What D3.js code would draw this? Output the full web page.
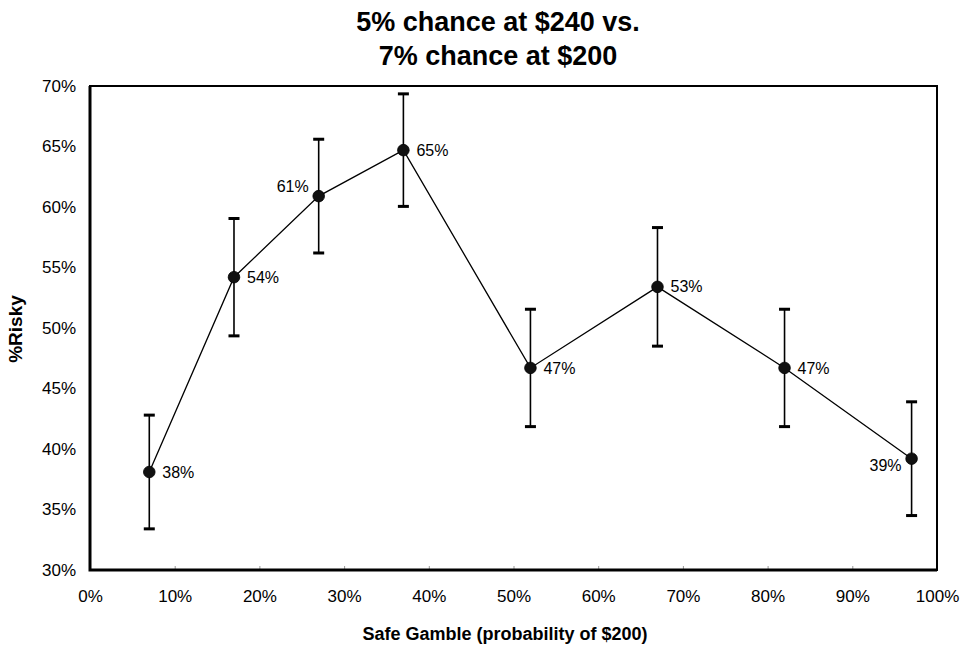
<!DOCTYPE html>
<html>
<head>
<meta charset="utf-8">
<script src="https://cdn.jsdelivr.net/npm/d3@7"></script>
<style>
  html, body { margin: 0; padding: 0; background: #fff; }
  svg { display: block; font-family: "Liberation Sans", Arial, sans-serif; }
</style>
</head>
<body>
<svg id="chart" width="965" height="645"></svg>
<script>
// Safe-gamble probability (x) and share choosing the risky option (y)
const safeProb   = [0.07, 0.17, 0.27, 0.37, 0.52, 0.67, 0.82, 0.97];
const pctRisky   = [0.381, 0.542, 0.609, 0.647, 0.467, 0.534, 0.467, 0.392];
const errorSize  = [0.047, 0.0485, 0.047, 0.0465, 0.0485, 0.049, 0.0485, 0.047];
const xTicks     = [0, 0.1, 0.2, 0.3, 0.4, 0.5, 0.6, 0.7, 0.8, 0.9, 1.0];
const yTicks     = [0.30, 0.35, 0.40, 0.45, 0.50, 0.55, 0.60, 0.65, 0.70];
const titleLines = ["5% chance at $240 vs.", "7% chance at $200"];
const xTitle     = "Safe Gamble (probability of $200)";
const yTitle     = "%Risky";

const svg = d3.select("#chart");
const plot = { left: 90, right: 937, top: 86, bottom: 570 };

const x = d3.scaleLinear().domain([0, 1]).range([plot.left, plot.right]);
const y = d3.scaleLinear().domain([0.30, 0.70]).range([plot.bottom, plot.top]);
const pct = d3.format(".0%");

const points = safeProb.map((p, i) => ({ p, v: pctRisky[i], e: errorSize[i], i }));

// Title
svg.append("text")
  .attr("x", 498).attr("y", 31)
  .attr("text-anchor", "middle")
  .attr("font-size", 27).attr("font-weight", "bold")
  .selectAll("tspan").data(titleLines).join("tspan")
  .attr("x", 498).attr("dy", (d, i) => i === 0 ? 0 : 34)
  .text(d => d);

// Y axis labels
const yAxis = svg.append("g")
  .attr("transform", `translate(${plot.left},0)`)
  .call(d3.axisLeft(y).tickValues(yTicks).tickFormat(pct).tickSize(0).tickPadding(14));
yAxis.select(".domain").remove();
yAxis.selectAll("text").attr("font-size", 17).attr("font-family", "Liberation Sans, Arial, sans-serif").attr("fill", "#000");

// X axis: faint inward ticks plus labels
const xAxis = svg.append("g")
  .attr("transform", `translate(0,${plot.bottom})`)
  .call(d3.axisBottom(x).tickValues(xTicks).tickFormat(pct).tickSize(-4).tickPadding(20));
xAxis.select(".domain").remove();
xAxis.selectAll("line").attr("stroke", "#999").attr("stroke-width", 1);
xAxis.selectAll("text").attr("font-size", 17).attr("font-family", "Liberation Sans, Arial, sans-serif").attr("fill", "#000");

// Plot frame
svg.append("rect")
  .attr("x", plot.left).attr("y", plot.top)
  .attr("width", plot.right - plot.left).attr("height", plot.bottom - plot.top)
  .attr("fill", "none").attr("stroke", "#000").attr("stroke-width", 2);
svg.append("path")
  .attr("d", `M${plot.left},${plot.top} V${plot.bottom} H${plot.right}`)
  .attr("fill", "none").attr("stroke", "#000").attr("stroke-width", 3);

// Error bars
const eb = svg.append("g").attr("class", "errorbars");
eb.selectAll("line").data(points).join("line")
  .attr("x1", d => x(d.p)).attr("x2", d => x(d.p))
  .attr("y1", d => y(d.v + d.e)).attr("y2", d => y(d.v - d.e))
  .attr("stroke", "#000").attr("stroke-width", 1.6);
const caps = points.flatMap(d => [{ p: d.p, v: d.v + d.e }, { p: d.p, v: d.v - d.e }]);
eb.selectAll("rect").data(caps).join("rect")
  .attr("x", d => x(d.p) - 5.5).attr("y", d => y(d.v) - 1.5)
  .attr("width", 11).attr("height", 3).attr("fill", "#000");

// Connecting line
svg.append("path")
  .datum(points)
  .attr("d", d3.line().x(d => x(d.p)).y(d => y(d.v)))
  .attr("fill", "none").attr("stroke", "#000").attr("stroke-width", 1.3);

// Markers
svg.append("g").selectAll("circle").data(points).join("circle")
  .attr("cx", d => x(d.p)).attr("cy", d => y(d.v)).attr("r", 5.8)
  .attr("fill", "#111").attr("stroke", "#000").attr("stroke-width", 0.8);

// Value labels: most sit to the right of the marker, a few to the left
const leftLabels = { 2: -10, 7: 7 };
svg.append("g").selectAll("text").data(points).join("text")
  .attr("x", d => d.i in leftLabels ? x(d.p) - 10 : x(d.p) + 13)
  .attr("y", d => y(d.v) + (d.i in leftLabels ? leftLabels[d.i] : 0))
  .attr("dy", "0.35em")
  .attr("text-anchor", d => d.i in leftLabels ? "end" : "start")
  .attr("font-size", 16)
  .text(d => pct(d.v));

// Axis titles
svg.append("text")
  .attr("x", 505).attr("y", 640)
  .attr("text-anchor", "middle")
  .attr("font-size", 18).attr("font-weight", "bold")
  .text(xTitle);
svg.append("text")
  .attr("transform", "translate(22,329) rotate(-90)")
  .attr("text-anchor", "middle")
  .attr("font-size", 19).attr("font-weight", "bold")
  .text(yTitle);
</script>
</body>
</html>
